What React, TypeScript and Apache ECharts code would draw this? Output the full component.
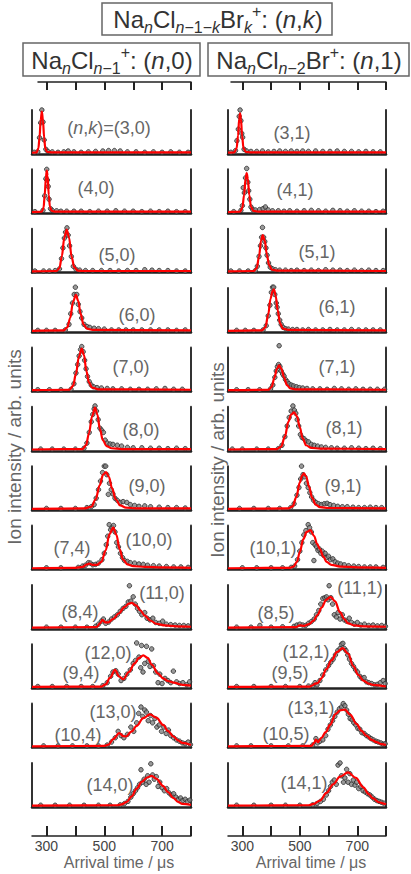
import React, { useEffect, useRef } from 'react';
import * as echarts from 'echarts';

// ---------- axis values ----------
const X_MIN = 250;
const X_MAX = 800;
const tickValues = [300, 400, 500, 600, 700, 800];
const tickLabels = [300, 500, 700];

// ---------- titles / labels ----------
const titleTop = '{t|Na}{si|n}{t|Cl}{si|n}{s|−1−}{si|k}{t|Br}{si|k}{p|+}{t|: (}{ti|n}{t|,}{ti|k}{t|)}';
const titleLeft = '{t|Na}{si|n}{t|Cl}{si|n}{s|−1}{p|+}{t|: (}{ti|n}{t|,0)}';
const titleRight = '{t|Na}{si|n}{t|Cl}{si|n}{s|−2}{t|Br}{p|+}{t|: (}{ti|n}{t|,1)}';
const yAxisTitle = 'Ion intensity / arb. units';
const xAxisTitle = 'Arrival time / μs';

const leftLabels = ['(n,k)=(3,0)', '(4,0)', '(5,0)', '(6,0)', '(7,0)', '(8,0)', '(9,0)', '(10,0)', '(11,0)', '(12,0)', '(13,0)', '(14,0)'];
const rightLabels = ['(3,1)', '(4,1)', '(5,1)', '(6,1)', '(7,1)', '(8,1)', '(9,1)', '(10,1)', '(11,1)', '(12,1)', '(13,1)', '(14,1)'];
const leftSubLabels = ['(7,4)', '(8,4)', '(9,4)', '(10,4)'];
const rightSubLabels = ['(8,5)', '(9,5)', '(10,5)'];

// ---------- data: fits (red) and measured points ----------
const fit_3_0 = [[250,0],[266,0.01],[272,0.1],[276,0.35],[280,0.75],[284,0.96],[288,0.75],[292,0.35],[296,0.1],[302,0.02],[320,0.01],[800,0.01]];
const pts_3_0 = [[270,0.02],[276,0.35],[280,0.7],[284,1.0],[288,0.72],[292,0.3],[298,0.08],[305,0.03],[320,0.02],[340,0.01],[360,0.02],[375,0.04],[395,0.02],[420,0.01],[445,0.02],[470,0.03],[495,0.04],[515,0.05],[535,0.05],[555,0.04],[580,0.02],[610,0.02],[640,0.01],[670,0.02],[700,0.01],[730,0.02],[760,0.01],[790,0.01],[258,0.01]];

const fit_4_0 = [[250,0],[284,0.01],[290,0.1],[294,0.4],[298,0.8],[301,0.97],[304,0.85],[308,0.4],[312,0.12],[318,0.03],[330,0.01],[800,0.01]];
const pts_4_0 = [[288,0.04],[294,0.38],[298,0.78],[301,1.0],[303,0.75],[306,0.6],[309,0.3],[314,0.08],[320,0.04],[335,0.03],[350,0.02],[370,0.02],[395,0.02],[420,0.02],[450,0.01],[480,0.02],[510,0.02],[540,0.03],[570,0.02],[600,0.02],[630,0.01],[660,0.02],[690,0.01],[720,0.02],[750,0.01],[780,0.01],[260,0.01]];

const fit_5_0 = [[250,0],[335,0.01],[345,0.08],[353,0.35],[362,0.8],[370,0.98],[378,0.8],[387,0.35],[396,0.1],[408,0.02],[430,0.01],[800,0.01]];
const pts_5_0 = [[260,0.01],[290,0.01],[310,0.01],[330,0.02],[345,0.06],[352,0.3],[357,0.55],[362,0.78],[366,0.92],[371,1.02],[375,0.85],[380,0.6],[386,0.35],[393,0.12],[402,0.05],[415,0.03],[435,0.02],[460,0.02],[490,0.02],[520,0.02],[550,0.01],[580,0.02],[610,0.02],[640,0.04],[665,0.03],[690,0.02],[720,0.02],[750,0.01],[780,0.01]];

const fit_6_0 = [[250,0],[360,0.01],[372,0.08],[382,0.3],[392,0.68],[402,0.84],[410,0.7],[418,0.4],[428,0.15],[440,0.05],[460,0.02],[800,0.01]];
const pts_6_0 = [[270,0.01],[300,0.01],[330,0.01],[365,0.02],[378,0.15],[384,0.4],[390,0.65],[396,0.85],[400,1.02],[405,0.85],[410,0.62],[416,0.45],[422,0.3],[430,0.15],[440,0.1],[450,0.08],[465,0.06],[480,0.05],[500,0.04],[525,0.02],[550,0.02],[575,0.02],[600,0.02],[630,0.02],[660,0.02],[690,0.02],[720,0.02],[750,0.01],[780,0.02]];

const fit_7_0 = [[250,0],[380,0.01],[392,0.1],[402,0.38],[412,0.78],[422,0.97],[430,0.82],[438,0.45],[447,0.18],[458,0.06],[480,0.02],[800,0.01]];
const pts_7_0 = [[270,0.01],[310,0.01],[350,0.01],[385,0.02],[395,0.15],[402,0.4],[408,0.6],[413,0.8],[418,0.95],[422,1.02],[427,0.9],[432,0.7],[437,0.5],[442,0.32],[448,0.2],[455,0.12],[463,0.08],[475,0.06],[490,0.05],[510,0.04],[530,0.03],[560,0.03],[590,0.02],[620,0.02],[650,0.02],[680,0.03],[710,0.04],[740,0.02],[770,0.02]];

const fit_8_0 = [[250,0],[425,0.01],[437,0.1],[447,0.38],[458,0.78],[468,0.98],[476,0.82],[485,0.48],[495,0.22],[508,0.08],[525,0.03],[560,0.01],[800,0.01]];
const pts_8_0 = [[280,0.01],[320,0.01],[360,0.01],[400,0.01],[430,0.03],[440,0.15],[448,0.4],[455,0.65],[460,0.82],[465,0.95],[468,1.02],[473,0.9],[479,0.7],[485,0.5],[491,0.45],[497,0.4],[503,0.22],[510,0.15],[520,0.13],[530,0.12],[545,0.1],[560,0.08],[580,0.05],[600,0.04],[630,0.04],[660,0.03],[690,0.03],[720,0.02],[750,0.03],[780,0.02]];

const fit_9_0 = [[250,0],[430,0.01],[455,0.05],[470,0.22],[484,0.55],[496,0.8],[506,0.86],[516,0.75],[527,0.48],[540,0.22],[555,0.08],[575,0.03],[610,0.01],[800,0.01]];
const pts_9_0 = [[300,0.01],[350,0.01],[400,0.01],[440,0.03],[455,0.05],[465,0.1],[472,0.25],[480,0.45],[487,0.65],[494,0.85],[500,1.0],[505,1.0],[509,0.8],[514,0.34],[518,0.6],[524,0.45],[530,0.35],[537,0.25],[545,0.2],[555,0.15],[565,0.17],[578,0.15],[590,0.1],[605,0.08],[620,0.06],[640,0.07],[660,0.05],[690,0.04],[720,0.03],[750,0.03],[780,0.02]];

const fit_10_0 = [[250,0],[400,0.01],[425,0.03],[440,0.09],[448,0.11],[458,0.08],[475,0.08],[490,0.15],[505,0.42],[518,0.8],[531,0.95],[542,0.78],[553,0.45],[565,0.2],[580,0.09],[600,0.05],[640,0.03],[700,0.02],[800,0.01]];
const pts_10_0 = [[300,0.01],[350,0.01],[410,0.02],[425,0.05],[435,0.07],[445,0.13],[452,0.12],[460,0.08],[470,0.09],[480,0.12],[492,0.2],[500,0.35],[507,0.55],[512,0.75],[517,1.02],[522,0.9],[527,0.95],[532,1.0],[537,0.85],[543,0.6],[549,0.5],[556,0.35],[563,0.25],[570,0.18],[580,0.16],[590,0.13],[605,0.12],[620,0.1],[635,0.09],[650,0.07],[670,0.06],[690,0.05],[715,0.04],[740,0.03],[765,0.03],[790,0.02]];

const fit_11_0 = [[250,0],[465,0.01],[475,0.02],[485,0.1],[494,0.18],[503,0.12],[514,0.12],[530,0.2],[550,0.33],[570,0.48],[585,0.56],[595,0.58],[610,0.52],[625,0.4],[640,0.28],[660,0.16],[680,0.09],[710,0.05],[750,0.03],[800,0.02]];
const pts_11_0 = [[300,0.01],[350,0.01],[400,0.01],[440,0.01],[470,0.03],[480,0.08],[490,0.15],[497,0.2],[505,0.1],[515,0.13],[525,0.2],[535,0.25],[545,0.3],[555,0.38],[565,0.45],[575,0.5],[583,0.6],[587,0.98],[592,0.62],[600,0.72],[607,0.55],[615,0.45],[622,0.38],[630,0.3],[640,0.35],[648,0.22],[658,0.18],[668,0.22],[678,0.12],[690,0.1],[702,0.15],[715,0.08],[730,0.07],[745,0.06],[760,0.05],[775,0.05],[790,0.04]];

const fit_12_0 = [[250,0],[490,0.01],[505,0.06],[520,0.22],[537,0.4],[552,0.24],[566,0.18],[585,0.35],[605,0.55],[620,0.68],[635,0.74],[650,0.68],[665,0.52],[685,0.32],[704,0.2],[720,0.14],[740,0.1],[770,0.05],[800,0.03]];
const pts_12_0 = [[270,0.01],[320,0.01],[370,0.01],[420,0.01],[460,0.01],[495,0.03],[510,0.1],[522,0.25],[530,0.35],[540,0.38],[548,0.3],[558,0.15],[568,0.2],[578,0.3],[590,0.4],[600,0.55],[608,0.62],[612,1.03],[620,0.7],[626,0.45],[629,0.97],[634,0.35],[640,0.55],[646,0.95],[652,0.6],[658,0.48],[664,0.89],[670,0.5],[678,0.35],[686,0.1],[692,0.3],[700,0.08],[710,0.2],[720,0.15],[730,0.1],[739,0.37],[750,0.12],[760,0.08],[772,0.1],[785,0.05],[795,0.12]];

const fit_13_0 = [[250,0],[500,0.01],[515,0.04],[531,0.17],[552,0.31],[565,0.24],[575,0.23],[595,0.35],[612,0.48],[635,0.66],[658,0.75],[680,0.67],[704,0.5],[720,0.36],[739,0.23],[755,0.14],[770,0.08],[800,0.03]];
const pts_13_0 = [[290,0.01],[340,0.01],[390,0.01],[440,0.01],[480,0.01],[510,0.03],[525,0.1],[538,0.2],[548,0.35],[558,0.25],[568,0.2],[580,0.28],[592,0.45],[602,0.35],[612,0.55],[619,0.77],[627,0.92],[633,0.7],[640,0.85],[646,0.8],[652,0.6],[660,0.72],[667,0.55],[675,0.65],[682,0.45],[690,0.5],[698,0.35],[706,0.45],[714,0.3],[722,0.38],[730,0.25],[740,0.2],[750,0.15],[760,0.12],[770,0.08],[780,0.06],[790,0.1],[798,0.04]];

const fit_14_0 = [[250,0],[545,0.01],[560,0.03],[578,0.09],[595,0.22],[612,0.4],[630,0.56],[648,0.66],[664,0.7],[680,0.63],[704,0.46],[720,0.32],[739,0.18],[755,0.09],[770,0.04],[800,0.02]];
const pts_14_0 = [[280,0.01],[330,0.01],[380,0.01],[430,0.01],[480,0.01],[520,0.01],[555,0.02],[570,0.05],[582,0.1],[592,0.2],[600,0.28],[608,0.35],[615,0.42],[622,0.5],[627,0.84],[632,0.55],[638,0.62],[645,0.5],[650,0.7],[655,0.55],[661,0.98],[667,0.72],[673,0.62],[680,0.68],[686,0.45],[692,0.55],[700,0.42],[708,0.35],[716,0.4],[724,0.3],[732,0.25],[740,0.28],[748,0.2],[756,0.15],[764,0.18],[772,0.12],[780,0.15],[788,0.1],[796,0.13]];

const fit_3_1 = [[250,0],[272,0.01],[280,0.1],[285,0.4],[289,0.8],[292,0.92],[295,0.8],[299,0.4],[304,0.1],[312,0.02],[330,0.01],[800,0.01]];
const pts_3_1 = [[260,0.01],[276,0.05],[281,0.28],[286,0.55],[289,0.85],[292,1.0],[295,0.75],[298,0.45],[301,0.36],[306,0.08],[315,0.04],[330,0.03],[350,0.03],[370,0.04],[390,0.02],[410,0.03],[430,0.04],[450,0.03],[470,0.04],[490,0.03],[510,0.04],[530,0.03],[555,0.04],[580,0.03],[605,0.03],[630,0.04],[655,0.03],[680,0.03],[705,0.02],[730,0.03],[755,0.02],[780,0.02]];

const fit_4_1 = [[250,0],[292,0.01],[300,0.1],[306,0.4],[311,0.78],[315,0.91],[319,0.78],[324,0.4],[330,0.12],[338,0.03],[355,0.01],[800,0.01]];
const pts_4_1 = [[270,0.01],[295,0.04],[300,0.15],[303,0.57],[307,0.45],[311,0.8],[315,1.02],[319,0.7],[322,0.5],[326,0.3],[330,0.12],[336,0.06],[345,0.05],[360,0.06],[372,0.08],[380,0.12],[390,0.05],[405,0.03],[425,0.03],[445,0.02],[465,0.03],[490,0.02],[515,0.03],[540,0.04],[565,0.03],[590,0.02],[615,0.04],[640,0.03],[665,0.02],[690,0.03],[715,0.02],[740,0.02],[765,0.01],[790,0.02]];

const fit_5_1 = [[250,0],[340,0.01],[350,0.08],[358,0.35],[365,0.72],[371,0.85],[378,0.72],[385,0.4],[393,0.15],[403,0.04],[420,0.02],[800,0.01]];
const pts_5_1 = [[260,0.01],[290,0.01],[320,0.01],[345,0.02],[352,0.12],[358,0.35],[363,0.6],[367,0.8],[370,1.03],[374,0.8],[378,0.7],[382,0.55],[386,0.38],[391,0.2],[397,0.1],[405,0.06],[415,0.04],[430,0.03],[450,0.03],[470,0.02],[490,0.03],[515,0.02],[540,0.03],[565,0.02],[590,0.04],[615,0.03],[640,0.03],[665,0.02],[690,0.03],[715,0.02],[740,0.03],[765,0.02],[790,0.02]];

const fit_6_1 = [[250,0],[368,0.01],[380,0.08],[390,0.38],[398,0.75],[405,0.93],[410,0.97],[416,0.82],[423,0.48],[431,0.18],[441,0.05],[460,0.02],[800,0.01]];
const pts_6_1 = [[280,0.01],[310,0.01],[340,0.01],[372,0.02],[383,0.12],[390,0.35],[396,0.6],[401,0.9],[405,1.02],[409,1.02],[413,0.85],[418,0.65],[421,0.55],[425,0.4],[430,0.25],[435,0.15],[442,0.08],[450,0.05],[460,0.04],[475,0.03],[490,0.03],[510,0.02],[530,0.03],[555,0.02],[580,0.02],[605,0.03],[630,0.02],[655,0.02],[680,0.03],[705,0.02],[730,0.02],[755,0.02],[780,0.02]];

const fit_7_1 = [[250,0],[392,0.01],[402,0.08],[412,0.3],[420,0.5],[428,0.58],[436,0.5],[445,0.3],[455,0.12],[467,0.04],[485,0.02],[800,0.01]];
const pts_7_1 = [[280,0.01],[320,0.01],[360,0.01],[398,0.03],[406,0.12],[413,0.3],[418,0.45],[422,0.55],[426,0.6],[428,1.04],[431,0.55],[435,0.45],[440,0.38],[445,0.33],[450,0.25],[456,0.2],[462,0.15],[470,0.12],[478,0.1],[488,0.08],[498,0.06],[510,0.05],[525,0.04],[545,0.03],[570,0.03],[595,0.02],[620,0.04],[645,0.03],[670,0.02],[695,0.03],[720,0.02],[745,0.02],[770,0.02],[795,0.02]];

const fit_8_1 = [[250,0],[420,0.01],[435,0.07],[448,0.3],[460,0.65],[470,0.82],[480,0.87],[490,0.78],[500,0.52],[510,0.26],[522,0.1],[540,0.04],[570,0.02],[800,0.01]];
const pts_8_1 = [[265,0.01],[300,0.01],[350,0.01],[390,0.01],[425,0.02],[438,0.1],[448,0.3],[456,0.55],[463,0.75],[470,0.9],[476,1.02],[481,0.92],[486,0.85],[491,0.7],[496,0.55],[502,0.35],[508,0.28],[515,0.25],[522,0.2],[530,0.18],[540,0.12],[550,0.1],[562,0.08],[575,0.06],[590,0.05],[610,0.04],[630,0.03],[655,0.03],[680,0.04],[705,0.03],[730,0.02],[755,0.03],[780,0.02]];

const fit_9_1 = [[250,0],[460,0.01],[475,0.06],[488,0.28],[500,0.62],[508,0.78],[514,0.83],[522,0.76],[532,0.52],[543,0.26],[555,0.1],[570,0.04],[600,0.02],[800,0.01]];
const pts_9_1 = [[290,0.01],[340,0.01],[390,0.01],[430,0.01],[468,0.03],[480,0.12],[490,0.32],[497,0.5],[503,0.7],[506,1.0],[511,0.8],[517,0.75],[523,0.6],[529,0.5],[535,0.38],[541,0.28],[548,0.2],[556,0.15],[565,0.12],[575,0.1],[585,0.12],[595,0.13],[605,0.1],[618,0.08],[632,0.06],[648,0.05],[665,0.05],[685,0.04],[705,0.03],[725,0.03],[745,0.04],[765,0.03],[785,0.03]];

const fit_10_1 = [[250,0],[465,0.01],[478,0.04],[490,0.15],[500,0.38],[512,0.68],[524,0.85],[537,0.89],[550,0.75],[560,0.57],[570,0.45],[582,0.27],[593,0.15],[610,0.08],[640,0.04],[700,0.02],[800,0.01]];
const pts_10_1 = [[300,0.01],[350,0.01],[400,0.01],[440,0.01],[470,0.02],[482,0.05],[492,0.2],[500,0.4],[507,0.6],[514,0.78],[521,0.88],[529,1.02],[534,0.95],[540,0.85],[545,0.6],[549,0.18],[553,0.55],[558,0.5],[563,0.42],[568,0.45],[573,0.35],[578,0.4],[583,0.3],[588,0.35],[594,0.25],[600,0.28],[607,0.2],[615,0.22],[623,0.15],[632,0.12],[642,0.1],[655,0.08],[670,0.06],[688,0.05],[705,0.04],[725,0.03],[745,0.03],[765,0.03],[790,0.02]];

const fit_11_1 = [[250,0],[485,0.01],[500,0.05],[515,0.04],[532,0.08],[547,0.16],[562,0.3],[576,0.47],[592,0.65],[607,0.72],[622,0.62],[640,0.36],[655,0.2],[668,0.1],[690,0.05],[720,0.03],[800,0.02]];
const pts_11_1 = [[280,0.01],[330,0.01],[361,0.05],[400,0.01],[440,0.02],[480,0.03],[490,0.06],[500,0.08],[510,0.06],[520,0.05],[530,0.1],[540,0.14],[550,0.2],[558,0.3],[566,0.4],[573,0.55],[580,0.68],[587,0.7],[593,0.72],[598,0.65],[602,0.98],[608,0.7],[614,0.55],[620,0.3],[627,0.25],[633,0.35],[640,0.2],[648,0.3],[655,0.18],[663,0.15],[672,0.22],[680,0.12],[690,0.08],[700,0.12],[712,0.06],[725,0.08],[740,0.05],[755,0.06],[770,0.04],[785,0.05],[798,0.03]];

const fit_12_1 = [[250,0],[535,0.01],[545,0.04],[553,0.08],[562,0.09],[575,0.2],[593,0.42],[610,0.62],[630,0.82],[649,0.91],[668,0.78],[686,0.49],[704,0.28],[721,0.15],[740,0.08],[755,0.05],[800,0.01]];
const pts_12_1 = [[280,0.01],[340,0.01],[400,0.01],[450,0.01],[500,0.01],[530,0.02],[545,0.03],[553,0.1],[560,0.05],[570,0.15],[580,0.28],[590,0.4],[600,0.5],[608,0.58],[616,0.65],[624,0.75],[632,0.85],[640,0.9],[645,1.0],[650,1.02],[655,0.9],[661,0.85],[667,0.75],[673,0.65],[680,0.55],[687,0.48],[694,0.4],[701,0.35],[709,0.25],[716,0.2],[724,0.22],[732,0.12],[740,0.1],[750,0.08],[760,0.05],[770,0.06],[780,0.1],[790,0.15],[797,0.08]];

const fit_13_1 = [[250,0],[540,0.01],[550,0.08],[556,0.16],[563,0.1],[575,0.2],[590,0.33],[605,0.5],[625,0.76],[640,0.84],[657,0.86],[675,0.74],[698,0.52],[715,0.36],[732,0.25],[750,0.15],[767,0.1],[785,0.05],[800,0.03]];
const pts_13_1 = [[280,0.01],[330,0.01],[400,0.01],[460,0.01],[510,0.01],[545,0.03],[556,0.18],[562,0.08],[570,0.12],[580,0.15],[590,0.25],[598,0.4],[606,0.5],[614,0.6],[622,0.7],[630,0.8],[638,0.88],[645,0.92],[651,1.0],[657,0.95],[663,0.85],[669,0.75],[675,0.65],[682,0.62],[688,0.55],[695,0.5],[702,0.42],[709,0.4],[716,0.32],[724,0.3],[732,0.25],[740,0.22],[748,0.18],[756,0.15],[765,0.12],[773,0.1],[782,0.08],[790,0.05],[797,0.06]];

const fit_14_1 = [[250,0],[530,0.01],[548,0.04],[570,0.12],[593,0.3],[616,0.5],[640,0.68],[668,0.78],[695,0.65],[721,0.43],[740,0.27],[755,0.17],[775,0.08],[796,0.04],[800,0.03]];
const pts_14_1 = [[280,0.01],[340,0.01],[400,0.01],[450,0.01],[500,0.01],[545,0.02],[560,0.05],[572,0.1],[582,0.15],[592,0.25],[600,0.35],[607,0.45],[613,0.55],[620,0.6],[627,0.5],[633,0.95],[640,1.0],[645,0.7],[652,0.55],[657,0.65],[663,0.85],[668,0.55],[674,0.75],[680,0.5],[686,0.6],[692,0.48],[698,0.55],[705,0.4],[712,0.45],[720,0.35],[728,0.32],[736,0.28],[744,0.25],[752,0.2],[760,0.15],[768,0.12],[776,0.1],[784,0.08],[792,0.06]];

const leftFits = [fit_3_0, fit_4_0, fit_5_0, fit_6_0, fit_7_0, fit_8_0, fit_9_0, fit_10_0, fit_11_0, fit_12_0, fit_13_0, fit_14_0];
const leftPts = [pts_3_0, pts_4_0, pts_5_0, pts_6_0, pts_7_0, pts_8_0, pts_9_0, pts_10_0, pts_11_0, pts_12_0, pts_13_0, pts_14_0];
const rightFits = [fit_3_1, fit_4_1, fit_5_1, fit_6_1, fit_7_1, fit_8_1, fit_9_1, fit_10_1, fit_11_1, fit_12_1, fit_13_1, fit_14_1];
const rightPts = [pts_3_1, pts_4_1, pts_5_1, pts_6_1, pts_7_1, pts_8_1, pts_9_1, pts_10_1, pts_11_1, pts_12_1, pts_13_1, pts_14_1];

// ---------- layout (pixels) ----------
const FONT = 'Liberation Sans, Arial, Helvetica, sans-serif';
const GRID_H = 44;
const ROW0_BOTTOM = 154;
const ROW_STEP = 59.36;
const COLS = [
  { left: 32, width: 159 },
  { left: 228, width: 158 },
];
const leftLabelPos = [[109,128],[96,188],[117,255],[137,315],[131,367],[141,430],[147,486],[149,540],[162,593],[108,653],[113,712],[110,785]];
const rightLabelPos = [[292,133],[295,190],[317,252],[337,307],[337,367],[344,428],[343,486],[273,548],[360,588],[306,652],[311,708],[304,783]];
const leftSubPos = [[72,548],[80,612],[81,673],[78,735]];
const rightSubPos = [[276,613],[290,673],[286,734]];

function richLabel(txt: string): string {
  let out = '';
  let buf = '';
  for (const ch of txt) {
    if (ch === 'n' || ch === 'k') {
      if (buf) { out += `{r|${buf}}`; buf = ''; }
      out += `{i|${ch}}`;
    } else buf += ch;
  }
  if (buf) out += `{r|${buf}}`;
  return out;
}

const LABEL_COLOR = '#666';
const labelRich = {
  r: { fontSize: 18, fontFamily: FONT, fill: LABEL_COLOR },
  i: { fontSize: 18, fontFamily: FONT, fontStyle: 'italic', fill: LABEL_COLOR },
};
const titleRich = {
  t: { fontSize: 24, lineHeight: 32, fontFamily: FONT, fill: '#333', verticalAlign: 'middle' },
  ti: { fontSize: 24, lineHeight: 32, fontFamily: FONT, fill: '#333', fontStyle: 'italic', verticalAlign: 'middle' },
  s: { fontSize: 16, lineHeight: 16, fontFamily: FONT, fill: '#333', verticalAlign: 'bottom' },
  si: { fontSize: 16, lineHeight: 16, fontFamily: FONT, fill: '#333', fontStyle: 'italic', verticalAlign: 'bottom' },
  p: { fontSize: 16, lineHeight: 16, fontFamily: FONT, fill: '#333', verticalAlign: 'top' },
};

export default function App() {
  const ref = useRef<HTMLDivElement>(null);
  useEffect(() => {
    if (!ref.current) return;
    const chart = echarts.init(ref.current, undefined, { renderer: 'svg' });
    const grid: any[] = [];
    const xAxis: any[] = [];
    const yAxis: any[] = [];
    const series: any[] = [];
    const graphic: any[] = [];
    const AX = '#222';

    const panels = [
      ...leftFits.map((f, i) => ({ fit: f, pts: leftPts[i], col: 0, row: i })),
      ...rightFits.map((f, i) => ({ fit: f, pts: rightPts[i], col: 1, row: i })),
    ];
    panels.forEach((p, idx) => {
      const bottom = ROW0_BOTTOM + p.row * ROW_STEP;
      grid.push({ left: COLS[p.col].left, width: COLS[p.col].width, top: bottom - GRID_H, height: GRID_H });
      xAxis.push({
        gridIndex: idx, type: 'value', min: X_MIN, max: X_MAX,
        axisLine: { show: true, onZero: false, lineStyle: { color: AX, width: 2.5 } },
        axisTick: { show: false }, axisLabel: { show: false }, splitLine: { show: false },
      });
      ['left', 'right'].forEach((pos) => {
        yAxis.push({
          gridIndex: idx, type: 'value', min: -0.03, max: 1, position: pos,
          axisLine: { show: true, onZero: false, lineStyle: { color: '#333', width: 2 } },
          axisTick: { show: false }, axisLabel: { show: false }, splitLine: { show: false },
        });
      });
      series.push({
        type: 'scatter', xAxisIndex: idx, yAxisIndex: 2 * idx, data: p.pts, symbolSize: 4.5, clip: false, z: 2,
        itemStyle: { color: '#808080', borderColor: '#2a2a2a', borderWidth: 1 },
      });
      series.push({
        type: 'line', xAxisIndex: idx, yAxisIndex: 2 * idx, data: p.fit, symbol: 'none', showSymbol: false,
        smooth: 0.35, smoothMonotone: 'x', z: 3, lineStyle: { color: '#ff0000', width: 2.2 },
      });
    });

    const topDefs = [
      { left: 38, width: 153, min: 270 },
      { left: 231, width: 155, min: 260 },
    ];
    topDefs.forEach((d) => {
      const gi = grid.length;
      grid.push({ left: d.left, width: d.width, top: 82, height: 10 });
      xAxis.push({
        gridIndex: gi, type: 'value', min: d.min, max: X_MAX, position: 'top',
        axisLine: { show: true, onZero: false, lineStyle: { color: AX, width: 1.5 } },
        axisTick: { show: true, inside: true, length: 8, customValues: tickValues, lineStyle: { color: AX, width: 2 } },
        axisLabel: { show: false }, splitLine: { show: false },
      });
      yAxis.push({ gridIndex: gi, type: 'value', show: false, min: 0, max: 1 });
    });
    COLS.forEach((c) => {
      const gi = grid.length;
      grid.push({ left: c.left, width: c.width, top: 826, height: 10 });
      xAxis.push({
        gridIndex: gi, type: 'value', min: X_MIN, max: X_MAX, position: 'bottom',
        axisLine: { show: true, onZero: false, lineStyle: { color: AX, width: 1.5 } },
        axisTick: { show: true, inside: true, length: 10, customValues: tickValues, lineStyle: { color: AX, width: 2 } },
        axisLabel: { show: true, customValues: tickLabels, margin: 3, fontSize: 14, color: '#444', fontFamily: FONT },
        splitLine: { show: false },
      });
      yAxis.push({ gridIndex: gi, type: 'value', show: false, min: 0, max: 1 });
    });

    graphic.push({ type: 'rect', shape: { x: 102, y: 3, width: 230, height: 32 }, style: { fill: 'none', stroke: '#666', lineWidth: 1.5 } });
    graphic.push({ type: 'rect', shape: { x: 23, y: 43, width: 177, height: 33 }, style: { fill: 'none', stroke: '#666', lineWidth: 1.5 } });
    graphic.push({ type: 'rect', shape: { x: 208, y: 43, width: 201, height: 33 }, style: { fill: 'none', stroke: '#666', lineWidth: 1.5 } });
    graphic.push({ type: 'text', x: 218, y: 19, style: { text: titleTop, rich: titleRich, align: 'center', verticalAlign: 'middle', fill: '#333', font: `24px ${FONT}` } });
    graphic.push({ type: 'text', x: 112, y: 60, style: { text: titleLeft, rich: titleRich, align: 'center', verticalAlign: 'middle', fill: '#333', font: `24px ${FONT}` } });
    graphic.push({ type: 'text', x: 309, y: 60, style: { text: titleRight, rich: titleRich, align: 'center', verticalAlign: 'middle', fill: '#333', font: `24px ${FONT}` } });

    const addLabel = (txt: string, pos: number[]) => {
      graphic.push({ type: 'text', x: pos[0], y: pos[1], z: 10, style: { text: richLabel(txt), rich: labelRich, align: 'center', verticalAlign: 'middle', fill: LABEL_COLOR, font: `18px ${FONT}` } });
    };
    leftLabels.forEach((t, i) => addLabel(t, leftLabelPos[i]));
    rightLabels.forEach((t, i) => addLabel(t, rightLabelPos[i]));
    leftSubLabels.forEach((t, i) => addLabel(t, leftSubPos[i]));
    rightSubLabels.forEach((t, i) => addLabel(t, rightSubPos[i]));

    [[14, 447], [217, 460]].forEach(([x, y]) => {
      graphic.push({ type: 'text', x, y, rotation: Math.PI / 2, style: { text: yAxisTitle, align: 'center', verticalAlign: 'middle', fill: '#666', font: `19px ${FONT}` } });
    });
    [[119, 862], [311, 862]].forEach(([x, y]) => {
      graphic.push({ type: 'text', x, y, style: { text: xAxisTitle, align: 'center', verticalAlign: 'middle', fill: '#666', font: `16px ${FONT}` } });
    });

    chart.setOption({ animation: false, grid, xAxis, yAxis, series, graphic });
    return () => chart.dispose();
  }, []);
  return <div ref={ref} style={{ position: 'absolute', left: 0, top: 0, width: 411, height: 874 }} />;
}
